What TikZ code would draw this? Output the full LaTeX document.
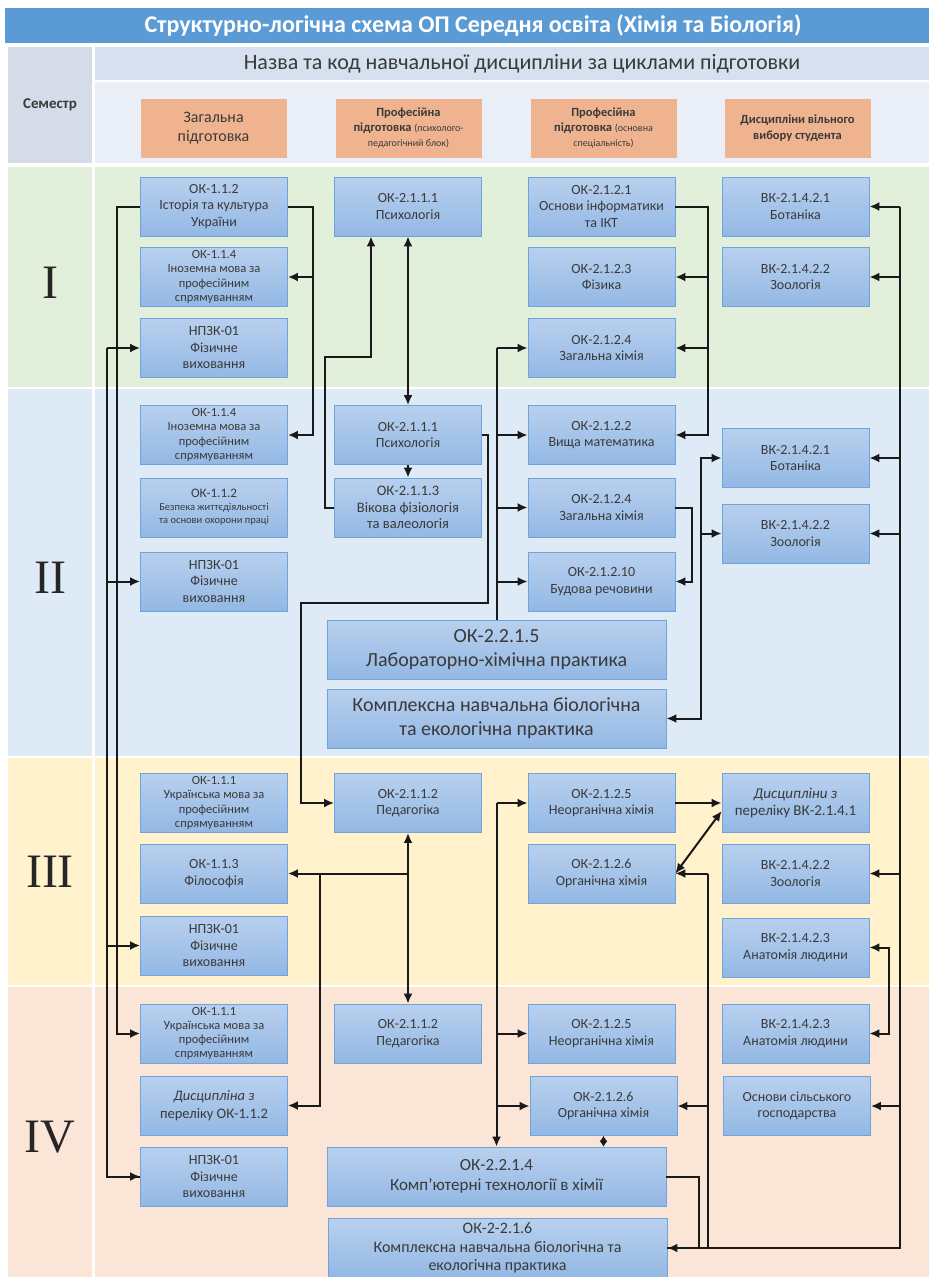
\documentclass[tikz,border=0pt]{standalone}
\usepackage{fontspec}
\setmainfont{Carlito}
\newfontfamily\romfont{Liberation Serif}
\usepackage{xcolor}
\usetikzlibrary{arrows.meta}
\usetikzlibrary{calc}

\definecolor{titleblue}{HTML}{5B9BD5}
\definecolor{semcell}{HTML}{D5DCE8}
\definecolor{headtop}{HTML}{D6E0EF}
\definecolor{headlow}{HTML}{E9EEF7}
\definecolor{bandI}{HTML}{E2EFDA}
\definecolor{bandII}{HTML}{DEEBF7}
\definecolor{bandIII}{HTML}{FFF2CC}
\definecolor{bandIV}{HTML}{FBE5D6}
\definecolor{headorange}{HTML}{EFB48F}
\definecolor{boxtop}{HTML}{B8D0EE}
\definecolor{boxbot}{HTML}{93B8E4}
\definecolor{boxedge}{HTML}{6FA3DB}
\definecolor{boxtext}{HTML}{3A3A3A}

\tikzset{
  kbox/.style={draw=boxedge, line width=0.8pt, top color=boxtop, bottom color=boxbot,
    minimum width=147pt, minimum height=59pt, inner sep=1pt, align=center,
    text=boxtext, font=\fontsize{14}{16.5}\selectfont},
  kboxs/.style={kbox, font=\fontsize{12.5}{14.2}\selectfont},
  kwide/.style={kbox, minimum width=339pt, font=\fontsize{20}{24}\selectfont},
  headbox/.style={fill=headorange, minimum width=146pt, minimum height=59pt,
    align=center, text=boxtext},
  conn/.style={line width=2pt, black!90},
  semno/.style={font=\romfont\fontsize{48}{48}\selectfont, text=black!85},
}

\begin{document}
\begin{tikzpicture}[x=1pt,y=-1pt,>={Latex[length=10pt,width=9pt]}]
  \fill[white] (0,0) rectangle (929,1277);
  \useasboundingbox (0,0) rectangle (929,1277);
  % header
  \fill[titleblue] (5,8) rectangle (929,43);
  \node[text=white, font=\bfseries\fontsize{24}{26}\selectfont] (title) at (473,26)
    {Структурно-логічна схема ОП Середня освіта (Хімія та Біологія)};
  \fill[semcell] (8,47) rectangle (92,163);
  \fill[headtop] (95,47) rectangle (929,80);
  \fill[headlow] (95,82) rectangle (929,163);
  \node[font=\bfseries\fontsize{15}{17}\selectfont, text=boxtext] (sem) at (50,105) {Семестр};
  \node[font=\fontsize{22}{24}\selectfont, text=boxtext] (names) at (522,64)
    {Назва та код навчальної дисципліни за циклами підготовки};
  \node[headbox, font=\fontsize{16}{19}\selectfont] (hgen) at (213.5,128) {Загальна\\підготовка};
  \node[headbox, font=\bfseries\fontsize{12.5}{15}\selectfont] (hpsy) at (408.5,128)
    {Професійна\\підготовка {\mdseries\fontsize{10}{12}\selectfont(психолого-}\\{\mdseries\fontsize{10}{12}\selectfont педагогічний блок)}};
  \node[headbox, font=\bfseries\fontsize{12.5}{15}\selectfont] (hspec) at (603.5,128)
    {Професійна\\підготовка {\mdseries\fontsize{10}{12}\selectfont(основна}\\{\mdseries\fontsize{10}{12}\selectfont спеціальність)}};
  \node[headbox, font=\bfseries\fontsize{12.5}{15.5}\selectfont] (hfree) at (797.5,128)
    {Дисципліни вільного\\вибору студента};

  % semester bands
  \fill[bandI] (8,167) rectangle (92,387);   \fill[bandI] (95,167) rectangle (929,387);
  \fill[bandII] (8,389) rectangle (92,756);  \fill[bandII] (95,389) rectangle (929,756);
  \fill[bandIII] (8,758) rectangle (92,985); \fill[bandIII] (95,758) rectangle (929,985);
  \fill[bandIV] (8,987) rectangle (92,1277); \fill[bandIV] (95,987) rectangle (929,1277);
  \node[semno] (s1) at (50,283) {I};
  \node[semno] (s2) at (50,578) {II};
  \node[semno] (s3) at (50,872) {III};
  \node[semno] (s4) at (50,1137) {IV};

  % semester I
  \node[kbox] (hist1) at (214,206.5) {ОК-1.1.2\\Історія та культура\\України};
  \node[kboxs] (lang1) at (214,277) {ОК-1.1.4\\Іноземна мова за\\професійним\\спрямуванням};
  \node[kbox] (pe1) at (214,348) {НПЗК-01\\Фізичне\\виховання};
  \node[kbox] (psy1) at (408,206.5) {ОК-2.1.1.1\\Психологія};
  \node[kbox] (inf1) at (601.5,206.5) {ОК-2.1.2.1\\Основи інформатики\\та ІКТ};
  \node[kbox] (phys1) at (601.5,277) {ОК-2.1.2.3\\Фізика};
  \node[kbox] (chem1) at (601.5,348) {ОК-2.1.2.4\\Загальна хімія};
  \node[kbox] (bot1) at (795.5,206.5) {ВК-2.1.4.2.1\\Ботаніка};
  \node[kbox] (zoo1) at (795.5,277) {ВК-2.1.4.2.2\\Зоологія};

  % semester II
  \node[kboxs] (lang2) at (214,435) {ОК-1.1.4\\Іноземна мова за\\професійним\\спрямуванням};
  \node[kbox, font=\fontsize{10.5}{13}\selectfont] (safe2) at (214,507.5)
    {{\fontsize{13}{15}\selectfont ОК-1.1.2}\\Безпека життєдіяльності\\та основи охорони праці};
  \node[kbox] (pe2) at (214,581.5) {НПЗК-01\\Фізичне\\виховання};
  \node[kbox] (psy2) at (408,435) {ОК-2.1.1.1\\Психологія};
  \node[kbox, font=\fontsize{14.5}{16.7}\selectfont] (age2) at (408,507.5) {ОК-2.1.1.3\\Вікова фізіологія\\та валеологія};
  \node[kbox] (math2) at (601.5,435) {ОК-2.1.2.2\\Вища математика};
  \node[kbox] (chem2) at (601.5,507.5) {ОК-2.1.2.4\\Загальна хімія};
  \node[kbox] (struct2) at (601.5,581.5) {ОК-2.1.2.10\\Будова речовини};
  \node[kbox] (bot2) at (795.5,458) {ВК-2.1.4.2.1\\Ботаніка};
  \node[kbox] (zoo2) at (795.5,533.5) {ВК-2.1.4.2.2\\Зоологія};
  \node[kwide] (lab2) at (496.5,650) {ОК-2.2.1.5\\Лабораторно-хімічна практика};
  \node[kwide] (prac2) at (496.5,718.5)
    {Комплексна навчальна біологічна\\та екологічна практика};

  % semester III
  \node[kboxs] (ukr3) at (214,803) {ОК-1.1.1\\Українська мова за\\професійним\\спрямуванням};
  \node[kbox] (phil3) at (214,873.5) {ОК-1.1.3\\Філософія};
  \node[kbox] (pe3) at (214,945.5) {НПЗК-01\\Фізичне\\виховання};
  \node[kbox] (ped3) at (408,803) {ОК-2.1.1.2\\Педагогіка};
  \node[kbox] (inorg3) at (601.5,803) {ОК-2.1.2.5\\Неорганічна хімія};
  \node[kbox] (org3) at (601.5,873.5) {ОК-2.1.2.6\\Органічна хімія};
  \node[kbox, font=\fontsize{15}{17.5}\selectfont] (list3) at (795.5,803) {\textit{Дисципліни з}\\переліку ВК-2.1.4.1};
  \node[kbox] (zoo3) at (795.5,873.5) {ВК-2.1.4.2.2\\Зоологія};
  \node[kbox] (anat3) at (795.5,947.5) {ВК-2.1.4.2.3\\Анатомія людини};

  % semester IV
  \node[kboxs] (ukr4) at (214,1033.5) {ОК-1.1.1\\Українська мова за\\професійним\\спрямуванням};
  \node[kbox, font=\fontsize{14.5}{17.5}\selectfont] (disc4) at (214,1105.5) {\textit{Дисципліна з}\\переліку ОК-1.1.2};
  \node[kbox] (pe4) at (214,1176.5) {НПЗК-01\\Фізичне\\виховання};
  \node[kbox] (ped4) at (408,1033.5) {ОК-2.1.1.2\\Педагогіка};
  \node[kbox] (inorg4) at (601.5,1033.5) {ОК-2.1.2.5\\Неорганічна хімія};
  \node[kbox] (org4) at (603.5,1106) {ОК-2.1.2.6\\Органічна хімія};
  \node[kbox] (anat4) at (795.5,1033.5) {ВК-2.1.4.2.3\\Анатомія людини};
  \node[kbox] (agri4) at (797,1106) {Основи сільського\\господарства};
  \node[kwide, font=\fontsize{17}{20}\selectfont] (comp4) at (496.5,1176.5)
    {ОК-2.2.1.4\\Комп'ютерні технології в хімії};
  \node[kwide, font=\fontsize{16}{18.5}\selectfont] (prac4) at (497.5,1248)
    {ОК-2-2.1.6\\Комплексна навчальна біологічна та\\екологічна практика};

  % general training
  \draw[conn,->] (hist1.west) -- ++(-23,0) |- (ukr4.west);
  \coordinate (peline) at (107,348);
  \draw[conn] (peline) |- (pe4.west);
  \foreach \n in {pe1,pe2,pe3,pe4}
    \draw[conn,->] (peline |- \n.west) -- (\n.west);
  \draw[conn,->] (hist1.east) -- ++(25,0) |- (lang2.east);
  \draw[conn,->] ([xshift=25pt]hist1.east |- lang1.east) -- (lang1.east);

  % psychology and pedagogy
  \draw[conn,->] (age2.west) -- ++(-9.5,0) -- ++(0,-150.5) -| ([xshift=-37pt]psy1.south);
  \draw[conn,<->] (psy1.south) -- (psy2.north);
  \draw[conn,->] (psy2.south) -- (age2.north);
  \draw[conn,->] (psy2.east) -- ++(6,0) -- ++(0,168) -| ([xshift=-33.5pt]ped3.west) -- (ped3.west);
  \draw[conn,<->] (ped3.south) -- (ped4.north);
  \draw[conn,->] (ped3.south |- phil3.east) -- (phil3.east);
  \draw[conn,->] ([xshift=32.5pt]phil3.east) |- (disc4.east);

  % chemistry line
  \draw[conn,->] (inf1.east) -- ++(33,0) |- (math2.east);
  \foreach \n in {phys1,chem1}
    \draw[conn,->] ([xshift=33pt]inf1.east |- \n.east) -- (\n.east);
  \draw[conn] (lab2.north) -- (lab2.north |- chem1.west);
  \foreach \n in {chem1,math2,chem2,struct2}
    \draw[conn,->] (lab2.north |- \n.west) -- (\n.west);
  \draw[conn,->] (chem2.east) -- ++(17,0) |- (struct2.east);
  \draw[conn,<->] (prac2.east) -- ++(35,0) |- (bot2.west);
  \draw[conn,->] ([xshift=35pt]prac2.east |- zoo2.west) -- (zoo2.west);
  \draw[conn,->] (inorg3.east) -- (list3.west);
  \draw[conn,<->] ([yshift=-8pt]list3.west) -- (org3.east);
  \draw[conn,->] (comp4.north |- inorg3.west) -- (comp4.north);
  \foreach \n in {inorg3,inorg4,org4}
    \draw[conn,->] (comp4.north |- \n.west) -- (\n.west);
  \draw[conn,{Latex[length=5.5pt,width=8pt]}-{Latex[length=5.5pt,width=8pt]}] (org4.south) -- (org4.south |- comp4.north);

  % free choice trunk
  \draw[conn,->] ([xshift=31pt]bot1.east) |- (prac4.east);
  \foreach \n in {bot1,zoo1,bot2,zoo2,zoo3,agri4}
    \draw[conn,->] ([xshift=31pt]bot1.east |- \n.east) -- (\n.east);
  \draw[conn,<->] (anat3.east) -- ++(20,0) |- (anat4.east);
  \draw[conn] ([xshift=33pt]org3.east) -- ([xshift=33pt]org3.east |- prac4.east);
  \draw[conn,->] ([xshift=33pt]org3.east) -- (org3.east);
  \draw[conn,->] ([xshift=33pt]org3.east |- org4.east) -- (org4.east);
  \draw[conn] (comp4.east) -- ++(33,0) |- (prac4.east);
\end{tikzpicture}
\end{document}
